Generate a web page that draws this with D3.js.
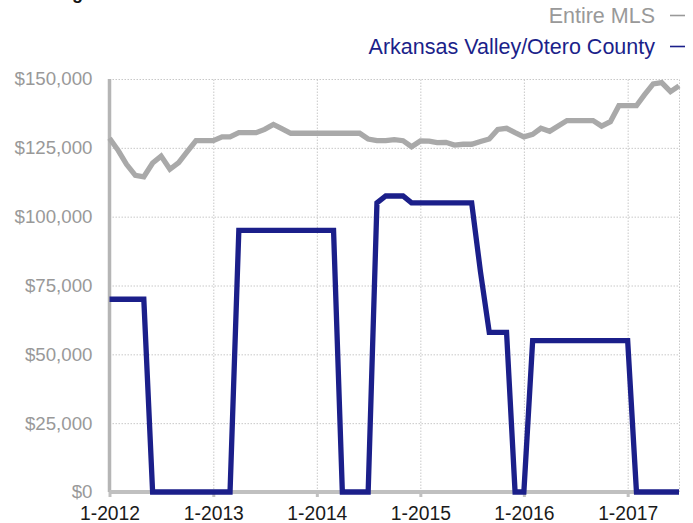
<!DOCTYPE html>
<html>
<head>
<meta charset="utf-8">
<script src="https://cdn.jsdelivr.net/npm/d3@7"></script>
<style>
  body { margin: 0; background: #fff; }
  svg { display: block; font-family: "Liberation Sans", Arial, Helvetica, sans-serif; }
</style>
</head>
<body>
<svg id="chart" width="693" height="523"></svg>
<script>
// monthly, Jan 2012 .. Jul 2017
const months = d3.timeMonth.range(new Date(2012, 0, 1), new Date(2017, 7, 1));

const entireMls = [
  128500, 124000, 119000, 115000, 114500, 119500, 122000, 117200, 119600, 123600, 127600, 127600,
  127600, 129000, 129000, 130500, 130500, 130500, 131700, 133500, 131900, 130300, 130300, 130300,
  130300, 130300, 130300, 130300, 130300, 130300, 128200, 127600, 127600, 128000, 127600, 125400,
  127500, 127400, 126900, 127000, 126000, 126300, 126300, 127300, 128200, 131700, 132100, 130500,
  129000, 129900, 132100, 131000, 132900, 134900, 134900, 134900, 134900, 132900, 134500, 140300,
  140300, 140300, 144200, 148200, 148700, 145400, 147500
];

const otero = [
  70000, 70000, 70000, 70000, 70000, 0, 0, 0, 0, 0, 0, 0,
  0, 0, 0, 95000, 95000, 95000, 95000, 95000, 95000, 95000, 95000, 95000,
  95000, 95000, 95000, 0, 0, 0, 0, 105000, 107500, 107500, 107500, 105000,
  105000, 105000, 105000, 105000, 105000, 105000, 105000, 80000, 58000, 58000, 58000, 0,
  0, 55000, 55000, 55000, 55000, 55000, 55000, 55000, 55000, 55000, 55000, 55000,
  55000, 0, 0, 0, 0, 0, 0
];

const yTicks = [0, 25000, 50000, 75000, 100000, 125000, 150000];
const xTicks = [2012, 2013, 2014, 2015, 2016, 2017].map(y => new Date(y, 0, 1));

const seriesNames = ['Entire MLS', 'Arkansas Valley/Otero County'];
const seriesColors = ['#a9a9a9', '#1b1f8a'];

const marginLeft = 109.5;
const marginRight = 14;
const marginTop = 79;
const marginBottom = 31;
const width = 693;
const height = 523;

const svg = d3.select('#chart');

const x = d3.scaleTime()
  .domain([months[0], months[months.length - 1]])
  .range([marginLeft, width - marginRight]);

const y = d3.scaleLinear()
  .domain([0, 150000])
  .range([height - marginBottom, marginTop]);

// cut-off title at the very top
svg.append('text')
  .attr('x', 72)
  .attr('y', -1)
  .attr('font-size', 18)
  .attr('font-weight', 'bold')
  .attr('fill', '#111')
  .text('g');

// horizontal grid
svg.append('g')
  .attr('transform', `translate(${marginLeft},0)`)
  .call(d3.axisLeft(y).tickValues(yTicks.slice(1)).tickSize(-(width - marginRight - marginLeft)).tickFormat(''))
  .call(g => g.select('.domain').remove())
  .call(g => g.selectAll('line').attr('stroke', '#c8c8c8').attr('stroke-dasharray', '1.5,1.5'));

// vertical grid
svg.append('g')
  .attr('transform', `translate(0,${height - marginBottom})`)
  .call(d3.axisBottom(x).tickValues(xTicks.slice(1).concat([months[months.length - 1]]))
    .tickSize(-(height - marginBottom - marginTop)).tickFormat(''))
  .call(g => g.select('.domain').remove())
  .call(g => g.selectAll('line').attr('stroke', '#c8c8c8').attr('stroke-dasharray', '1.5,1.5'));

// y labels
svg.append('g')
  .attr('transform', `translate(${marginLeft - 17},0)`)
  .call(d3.axisLeft(y).tickValues(yTicks).tickSize(0).tickPadding(0).tickFormat(d => '$' + d3.format(',')(d)))
  .call(g => g.select('.domain').remove())
  .call(g => g.selectAll('text')
    .attr('fill', '#999')
    .attr('font-size', 18.7)
    .attr('font-family', null));

// y axis line
svg.append('line')
  .attr('x1', marginLeft).attr('x2', marginLeft)
  .attr('y1', marginTop).attr('y2', y(0))
  .attr('stroke', '#b5b5b5')
  .attr('stroke-width', 3.5);

// x axis
svg.append('g')
  .attr('transform', `translate(0,${y(0)})`)
  .call(d3.axisBottom(x).tickValues(xTicks).tickSize(5).tickPadding(9).tickFormat(d3.timeFormat('1-%Y')))
  .call(g => g.select('.domain')
    .attr('d', `M${marginLeft},0H${width - marginRight}`)
    .attr('stroke', '#c0c0c0')
    .attr('stroke-width', 4))
  .call(g => g.selectAll('.tick line').attr('stroke', '#c0c0c0').attr('stroke-width', 3))
  .call(g => g.selectAll('.tick text')
    .attr('fill', '#1a1a1a')
    .attr('font-size', 19.3)
    .attr('font-family', null));

// lines
const line = d3.line()
  .x((d, i) => x(months[i]))
  .y(d => y(d));

[entireMls, otero].forEach((values, k) => {
  svg.append('path')
    .datum(values)
    .attr('fill', 'none')
    .attr('stroke', seriesColors[k])
    .attr('stroke-width', 5.3)
    .attr('stroke-linejoin', 'miter')
    .attr('d', line);
});

// legend
const legend = svg.append('g');
seriesNames.forEach((name, k) => {
  const ly = 22.5 + k * 31;
  legend.append('text')
    .attr('x', 655)
    .attr('y', ly)
    .attr('text-anchor', 'end')
    .attr('font-size', 21.5)
    .attr('fill', k === 0 ? '#999' : seriesColors[1])
    .text(name);
  legend.append('line')
    .attr('x1', 670).attr('x2', 685)
    .attr('y1', ly - 7).attr('y2', ly - 7)
    .attr('stroke', k === 0 ? '#999' : seriesColors[1])
    .attr('stroke-width', 1.6);
});
</script>
</body>
</html>
